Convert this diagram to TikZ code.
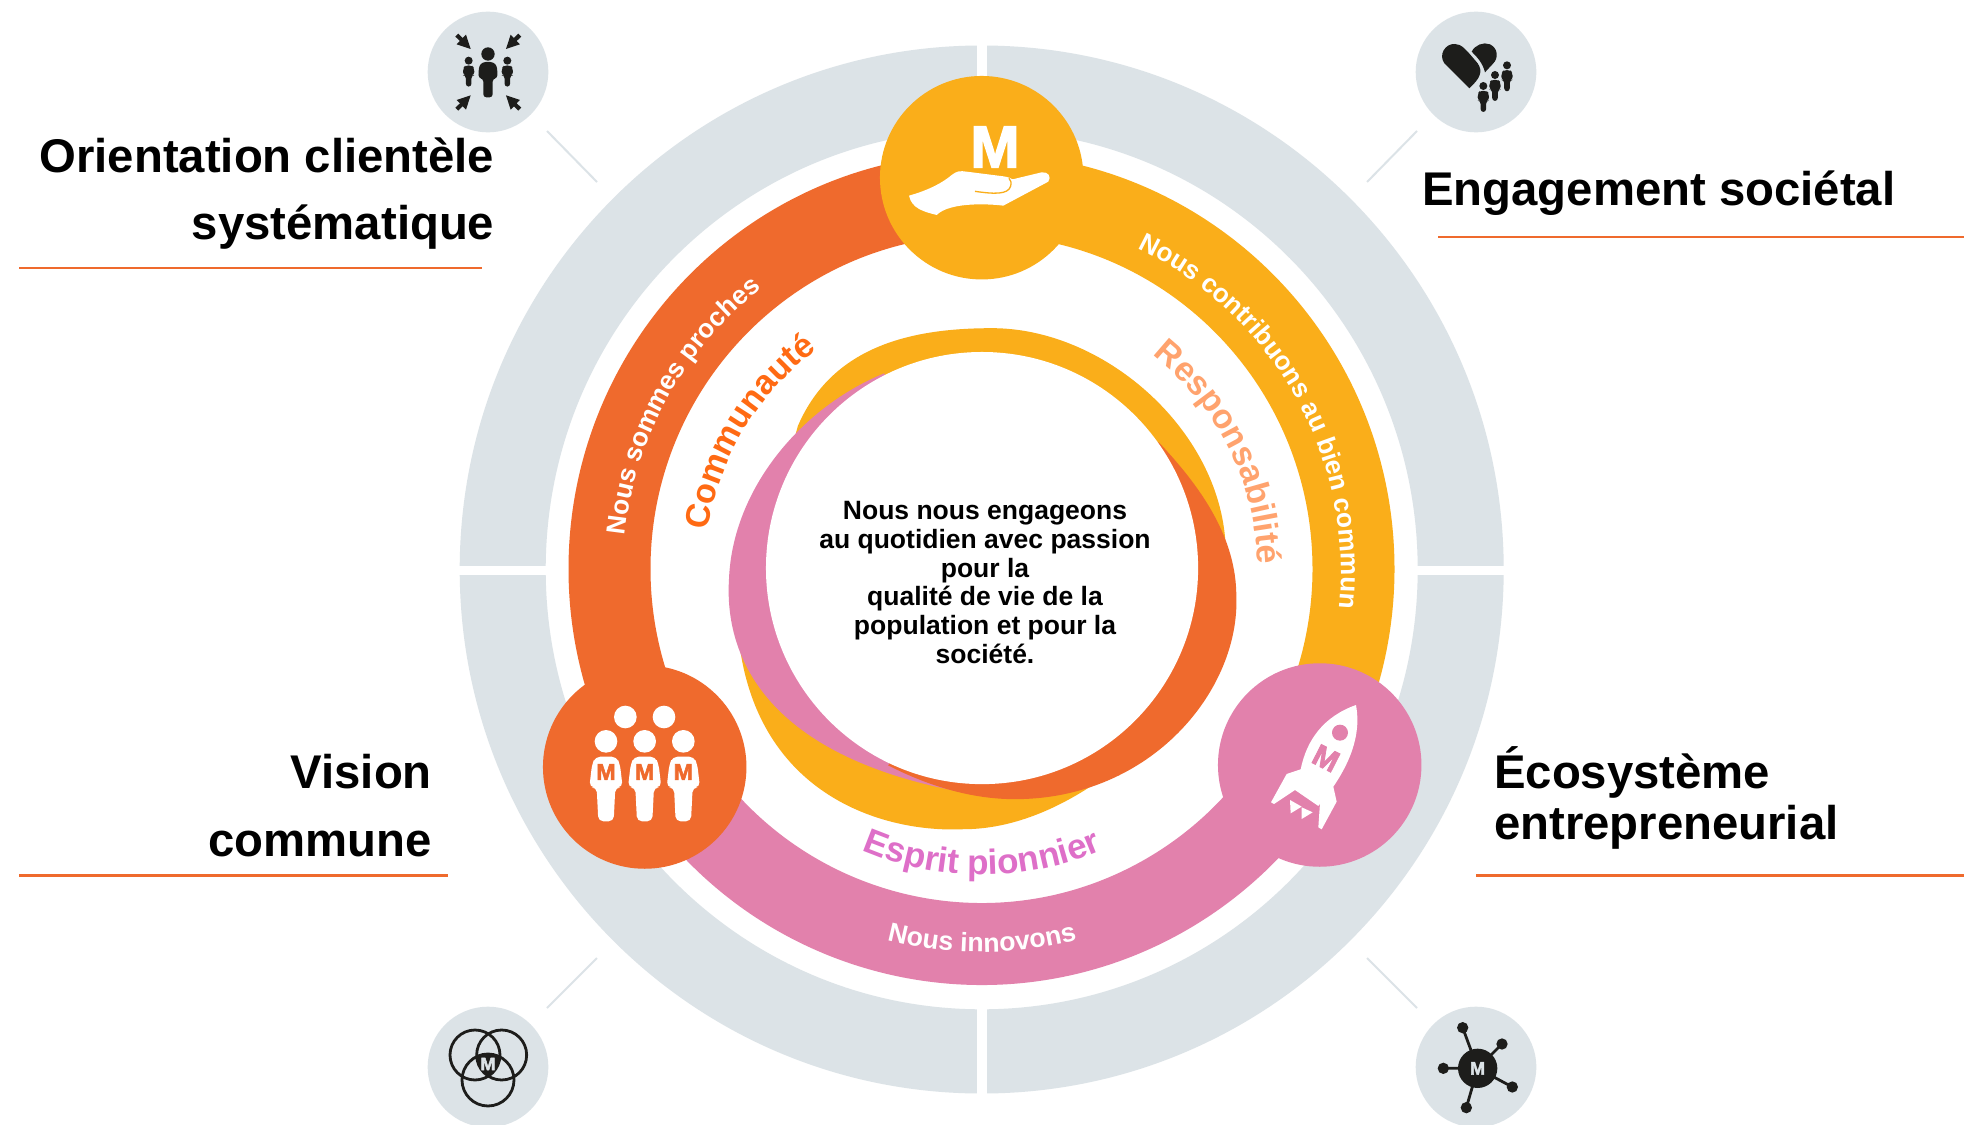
\documentclass[tikz,border=0pt]{standalone}
\usepackage{fontspec}
\setmainfont{Liberation Sans}
\newfontfamily\heavyfont[FakeBold=2.5]{Liberation Sans Bold}
\usetikzlibrary{decorations.text}
\definecolor{cgray}{HTML}{DCE3E7}
\definecolor{cyel}{HTML}{FAAE1A}
\definecolor{cora}{HTML}{EF6A2D}
\definecolor{cpink}{HTML}{E281AC}
\definecolor{corchid}{HTML}{DE6FC8}
\definecolor{cvivid}{HTML}{FF6A13}
\definecolor{clight}{HTML}{FFA36E}
\definecolor{cdark}{HTML}{1D1D1B}
\newcommand{\bfs}[1]{\fontsize{#1}{#1}\selectfont\bfseries}
\newcommand{\hvs}[1]{\fontsize{#1}{#1}\selectfont\heavyfont}
% person glyph, origin at head centre
\newcommand{\smallperson}[4]{%
  \begin{scope}[shift={(#1,#2)},scale=#3]
    \fill[#4] (0,0) circle[radius=20];
    \fill[#4,rounded corners=3] (-16,24) -- (16,24) -- (27,36) -- (29,72) -- (14,74) -- (14,130) -- (-14,130) -- (-14,74) -- (-29,72) -- (-27,36) -- cycle;
  \end{scope}}
\newcommand{\mperson}[2]{%
  \begin{scope}[shift={(#1,#2)}]
    \fill[white] (0,0) circle[radius=34];
    \fill[white,rounded corners=5] (-32,46) -- (32,46) -- (42,70) -- (50,138) -- (28,138) -- (23,240) -- (-23,240) -- (-28,138) -- (-50,138) -- (-42,70) -- cycle;
    \node[text=cora,font=\hvs{23}] (m#1) at (0,92) {M};
  \end{scope}}
\tikzset{
  x=1pt,y=-1pt,
  title/.style={font=\bfs{47.3},text=black,inner sep=0pt},
  rule/.style={draw=cora,line width=2.3pt},
  spoke/.style={draw=cgray,line width=2pt},
  badge/.style={circle,fill=cgray,minimum size=120.6pt,inner sep=0pt},
  bigdisc/.style={circle,minimum size=203.5pt,inner sep=0pt},
  seg/.style={line width=82pt},
  hubline/.style={draw=cdark,line width=2.8pt},
  venn/.style={draw=cdark,line width=2.8pt}
}
\begin{document}
\begin{tikzpicture}
\useasboundingbox (0,0) rectangle (1964,1124);
\clip (0,0) rectangle (1964,1124);
\fill[white] (0,0) rectangle (1964,1124);

% outer grey ring with its white cross
\fill[cgray,even odd rule] (981.7,569.5) ellipse[x radius=522,y radius=524] (981.7,569.5) ellipse[x radius=436,y radius=439.8];
\fill[white] (977.4,30) rectangle (986.8,1110);
\fill[white] (440,566) rectangle (1530,575.4);

% spokes
\coordinate (s1a) at (547,131); \coordinate (s1b) at (597,182);
\coordinate (s2a) at (1417,131); \coordinate (s2b) at (1367,182);
\coordinate (s3a) at (547,1008); \coordinate (s3b) at (597,958);
\coordinate (s4a) at (1417,1008); \coordinate (s4b) at (1367,958);
\draw[spoke] (s1a) -- (s1b);
\draw[spoke] (s2a) -- (s2b);
\draw[spoke] (s3a) -- (s3b);
\draw[spoke] (s4a) -- (s4b);

% badges
\node[badge] (b1) at (488,72) {};
\node[badge] (b2) at (1476,72) {};
\node[badge] (b3) at (488,1067) {};
\node[badge] (b4) at (1476,1067) {};

% main ring
\begin{scope}[shift={(981.5,569)},y=1.008pt]
  \draw[seg,draw=cora] (90:372) arc[start angle=90,end angle=215,radius=372];
  \draw[seg,draw=cyel] (90:372) arc[start angle=90,end angle=-30,radius=372];
  \draw[seg,draw=cpink] (212:372) arc[start angle=212,end angle=330,radius=372];
\end{scope}

% inner swooshes (coordinates in the display scale of the reference)
\begin{scope}[x=1.2526pt,y=-1.2526pt]
  \fill[cyel] (637,340) .. controls (665,275) and (730,262) .. (792,262) .. controls (880,262) and (970,340) .. (978,429) .. controls (985,500) and (930,590) .. (872,627) .. controls (840,648) and (805,662) .. (769,662) .. controls (705,665) and (605,635) .. (590,512) -- cycle;
  \fill[cpink] (706,298) .. controls (640,325) and (585,390) .. (582,462) .. controls (578,525) and (612,610) .. (790,636) -- cycle;
  \fill[cora] (925,353) .. controls (960,390) and (987,430) .. (987,476) .. controls (990,550) and (920,638) .. (810,638) .. controls (775,638) and (740,627) .. (709,611) -- cycle;
  \fill[white] (784,453.5) circle[radius=172.5];
\end{scope}

% big discs
\node[bigdisc,fill=cyel] (top) at (981.7,177.7) {};
\node[bigdisc,fill=cora] (left) at (644.7,767) {};
\node[bigdisc,fill=cpink] (right) at (1319.7,765) {};

% hand icon
\begin{scope}[shift={(860,60)},x=.3333pt,y=-.3333pt]
  \node[text=white,font=\hvs{59}] (hm) at (405,261) {M};
  \fill[white] (147,407) .. controls (190,395) and (240,375) .. (275,345) .. controls (290,333) and (300,332) .. (320,335) -- (430,349) .. controls (445,351) and (453,355) .. (458,358) -- (545,337) .. controls (565,335) and (575,350) .. (565,365) -- (430,437) .. controls (390,432) and (270,425) .. (230,465) .. controls (190,455) and (155,445) .. (147,407) -- cycle;
  \draw[cyel,line width=1.3pt] (345,394) .. controls (400,402) and (445,405) .. (452,378) .. controls (455,368) and (452,360) .. (447,355);
\end{scope}

% group icon
\begin{scope}[shift={(530,650)},x=.3333pt,y=-.3333pt]
  \fill[white] (286,201) circle[radius=34];
  \fill[white] (402,201) circle[radius=34];
  \mperson{228}{274}
  \mperson{344}{274}
  \mperson{460}{274}
\end{scope}

% rocket icon
\begin{scope}[shift={(1200,650)},x=.3333pt,y=-.3333pt]
  \fill[white] (468,165) .. controls (478,220) and (475,300) .. (400,410) -- (410,455) -- (365,538) -- (355,532) -- (360,460) -- (355,468) -- (285,420) -- (222,462) -- (213,457) -- (260,372) -- (302,358) .. controls (320,270) and (370,200) .. (468,165) -- cycle;
  \fill[cpink] (420,248) circle[radius=24];
  \node[text=cpink,font=\hvs{30},rotate=-27] (rm) at (378,325) {M};
  \fill[white] (270,450) -- (305,470) -- (272,490) -- cycle;
  \fill[white] (305,472) -- (338,487) -- (305,507) -- cycle;
\end{scope}

% badge 1 icon
\begin{scope}[shift={(400,0)},x=.3333pt,y=-.3333pt]
  \smallperson{264}{162}{1}{cdark}
  \smallperson{206}{182}{.6}{cdark}
  \smallperson{322}{182}{.6}{cdark}
  \fill[cdark] (212,147) -- (170,133) -- (180,123) -- (166,110) -- (175,101) -- (188,114) -- (198,104) -- cycle;
  \fill[cdark] (318,147) -- (360,133) -- (350,123) -- (364,110) -- (355,101) -- (342,114) -- (332,104) -- cycle;
  \fill[cdark] (212,286) -- (170,300) -- (180,310) -- (166,323) -- (175,332) -- (188,319) -- (198,329) -- cycle;
  \fill[cdark] (318,286) -- (360,300) -- (350,310) -- (364,323) -- (355,332) -- (342,319) -- (332,329) -- cycle;
\end{scope}

% badge 2 icon
\begin{scope}[shift={(1400,0)},x=.3333pt,y=-.3333pt]
  \fill[cdark] (208,265) -- (133,190) .. controls (115,165) and (135,130) .. (165,132) .. controls (185,133) and (195,145) .. (233,190) .. controls (250,215) and (240,235) .. (208,265) -- cycle;
  \fill[cdark] (215,155) .. controls (225,135) and (250,125) .. (270,133) .. controls (295,145) and (295,175) .. (280,190) -- (255,217) .. controls (248,190) and (235,175) .. (215,155) -- cycle;
  \smallperson{250}{258}{.6}{cdark}
  \smallperson{285}{225}{.6}{cdark}
  \smallperson{321}{196}{.6}{cdark}
\end{scope}

% badge 3 icon
\begin{scope}[shift={(400,960)},x=.3333pt,y=-.3333pt]
  \begin{scope}
    \clip (225,285) circle[radius=75];
    \clip (305,285) circle[radius=75];
    \fill[cdark] (264,360) circle[radius=78];
  \end{scope}
  \draw[venn] (225,285) circle[radius=75];
  \draw[venn] (305,285) circle[radius=75];
  \draw[venn] (264,360) circle[radius=78];
  \node[text=cgray,font=\hvs{18}] (vm) at (264,312) {M};
\end{scope}

% badge 4 icon
\begin{scope}[shift={(1400,960)},x=.3333pt,y=-.3333pt]
  \coordinate (hc) at (233,325);
  \coordinate (h1) at (188,203);
  \coordinate (h2) at (306,252);
  \coordinate (h3) at (337,381);
  \coordinate (h4) at (199,443);
  \coordinate (h5) at (130,325);
  \draw[hubline] (hc) -- (h1) (hc) -- (h2) (hc) -- (h3) (hc) -- (h4) (hc) -- (h5);
  \foreach \p in {h1,h2,h3,h4,h5} \fill[cdark] (\p) circle[radius=17];
  \fill[cdark] (hc) circle[radius=59];
  \node[text=cgray,font=\hvs{18}] (hm2) at (hc) {M};
\end{scope}

% curved labels
\begin{scope}[shift={(982,572)},y=1pt]
  \path[decorate,decoration={text along path,text align=center,text={|\color{white}\bfs{26.3}|Nous sommes proches}}] (201:359) arc[start angle=201,end angle=101,radius=359];
  \path[decorate,decoration={text along path,text align=center,text={|\color{white}\bfs{26.2}|Nous contribuons au bien commun}}] (79.3:359) arc[start angle=79.3,end angle=-20.7,radius=359];
  \path[decorate,decoration={text along path,text align=center,text={|\color{white}\bfs{26.6}|Nous innovons}}] (230:380) arc[start angle=230,end angle=310,radius=380];
  \path[decorate,decoration={text along path,text align=center,text={|\color{corchid}\bfs{35}|Esprit pionnier}}] (230:303) arc[start angle=230,end angle=310,radius=303];
  \path[decorate,decoration={text along path,text align=center,text={|\color{cvivid}\bfs{34}|Communauté}}] (199:277) arc[start angle=199,end angle=99,radius=277];
  \path[decorate,decoration={text along path,text align=center,text={|\color{clight}\bfs{34}|Responsabilité}}] (76.7:276) arc[start angle=76.7,end angle=-23.3,radius=276];
\end{scope}

% centre text
\node[align=center,inner sep=0pt,text=black,font=\fontsize{26.5}{28.8}\selectfont\bfseries] (centre) at (985,582.5) {Nous nous engageons\\au quotidien avec passion\\pour la\\qualité de vie de la\\population et pour la\\société.};

% titles
\node[title,anchor=base east] (t1a) at (494.5,172) {Orientation clientèle};
\node[title,anchor=base east] (t1b) at (494.5,239) {systématique};
\node[title,anchor=base west] (t2) at (1422,205) {Engagement sociétal};
\node[title,anchor=base east] (t3a) at (432,788) {Vision};
\node[title,anchor=base east] (t3b) at (432,856) {commune};
\node[title,anchor=base west] (t4a) at (1494,788) {Écosystème};
\node[title,anchor=base west] (t4b) at (1494,839) {entrepreneurial};

\coordinate (r1a) at (19,268); \coordinate (r1b) at (482,268);
\coordinate (r2a) at (1438,237); \coordinate (r2b) at (1964,237);
\coordinate (r3a) at (19,875.5); \coordinate (r3b) at (448,875.5);
\coordinate (r4a) at (1476,875.5); \coordinate (r4b) at (1964,875.5);
\draw[rule] (r1a) -- (r1b);
\draw[rule] (r2a) -- (r2b);
\draw[rule] (r3a) -- (r3b);
\draw[rule] (r4a) -- (r4b);
\end{tikzpicture}
\end{document}
